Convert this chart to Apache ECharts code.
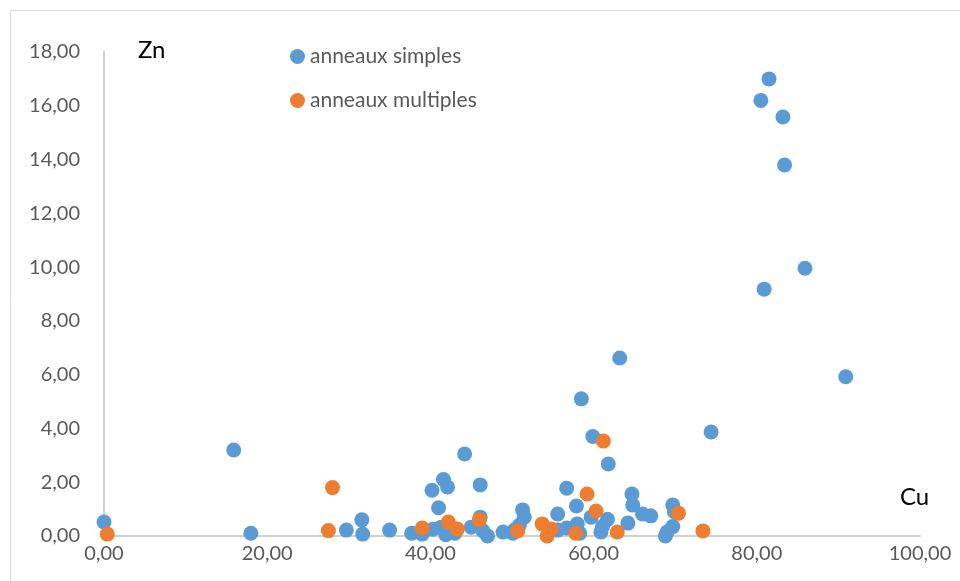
<!DOCTYPE html>
<html><head><meta charset="utf-8">
<script src="https://cdn.jsdelivr.net/npm/echarts@6/dist/echarts.min.js"></script>
<style>html,body{margin:0;padding:0;background:#fff}#c{width:960px;height:581px}</style>
</head><body><div id="c"></div>
<script>
const simpleCu = [0.0,15.9,18.0,29.7,31.6,31.7,35.0,37.7,39.0,40.2,40.3,41.0,41.3,41.6,41.9,42.1,43.0,44.2,45.0,46.1,46.1,46.4,47.0,48.9,50.1,50.3,50.9,51.3,51.5,55.6,55.6,56.7,56.7,57.9,58.0,58.3,58.5,59.7,59.9,60.9,61.1,61.7,61.8,63.2,64.2,64.7,64.8,66.0,67.0,68.8,69.0,69.7,69.7,69.9,74.4,80.5,80.9,81.5,83.2,83.4,85.9,90.9];
const simpleZn = [0.52,3.2,0.1,0.22,0.6,0.07,0.22,0.1,0.07,1.7,0.25,1.05,0.33,2.1,0.05,1.82,0.1,3.05,0.33,1.9,0.7,0.2,0.0,0.15,0.1,0.22,0.4,0.97,0.7,0.82,0.22,1.78,0.3,1.12,0.45,0.1,5.1,0.7,3.7,0.15,0.35,0.62,2.68,6.62,0.48,1.56,1.15,0.82,0.75,0.0,0.15,0.35,1.15,0.9,3.87,16.2,9.18,17.0,15.58,13.8,9.96,5.92];
const multiCu = [0.4,27.5,28.0,39.0,42.2,43.3,46.0,50.7,53.7,54.3,54.8,57.8,59.2,60.3,61.2,62.9,70.4,73.4];
const multiZn = [0.07,0.2,1.8,0.3,0.52,0.26,0.6,0.19,0.45,0.0,0.26,0.1,1.56,0.93,3.53,0.15,0.85,0.19];
const seriesNames = ['anneaux simples','anneaux multiples'];
const xTitle = 'Cu', yTitle = 'Zn';

const fmt = v => v.toFixed(2).replace('.', ',');
const zip = (a,b) => a.map((v,i)=>[v,b[i]]);
const chart = echarts.init(document.getElementById('c'));
const font = 'Lato, "Open Sans", sans-serif';
chart.setOption({
  animation:false,
  backgroundColor:'#fff',
  grid:{left:104,right:40,top:52,bottom:45},
  legend:{orient:'vertical',left:285,top:41,itemWidth:15,itemHeight:15,itemGap:23,icon:'circle',
    textStyle:{fontFamily:font,fontSize:21,color:'#595959'},data:seriesNames},
  xAxis:{type:'value',min:0,max:100,interval:20,
    axisLine:{show:true,onZero:false,lineStyle:{color:'#d0d0d0',width:2}},
    axisTick:{show:false},splitLine:{show:false},
    axisLabel:{formatter:fmt,fontFamily:font,fontSize:20,color:'#595959',margin:8}},
  yAxis:{type:'value',min:0,max:18,interval:2,
    axisLine:{show:true,onZero:false,lineStyle:{color:'#d0d0d0',width:2}},
    axisTick:{show:false},splitLine:{show:false},
    axisLabel:{formatter:fmt,fontFamily:font,fontSize:20,color:'#595959',margin:24}},
  graphic:[
    {type:'rect',left:8,top:8,shape:{width:1200,height:1200},style:{fill:'none',stroke:'#d9d9d9',lineWidth:1},silent:true,z:-1},
    {type:'text',left:138,top:38,style:{text:yTitle,fontFamily:font,fontSize:24,fill:'#000'}},
    {type:'text',left:900,top:485,style:{text:xTitle,fontFamily:font,fontSize:24,fill:'#000'}}
  ],
  series:[
    {name:seriesNames[0],type:'scatter',symbolSize:15,data:zip(simpleCu,simpleZn),itemStyle:{color:'#5B9BD5',opacity:1}},
    {name:seriesNames[1],type:'scatter',symbolSize:15,data:zip(multiCu,multiZn),itemStyle:{color:'#ED7D31',opacity:1}}
  ]
});
</script></body></html>
